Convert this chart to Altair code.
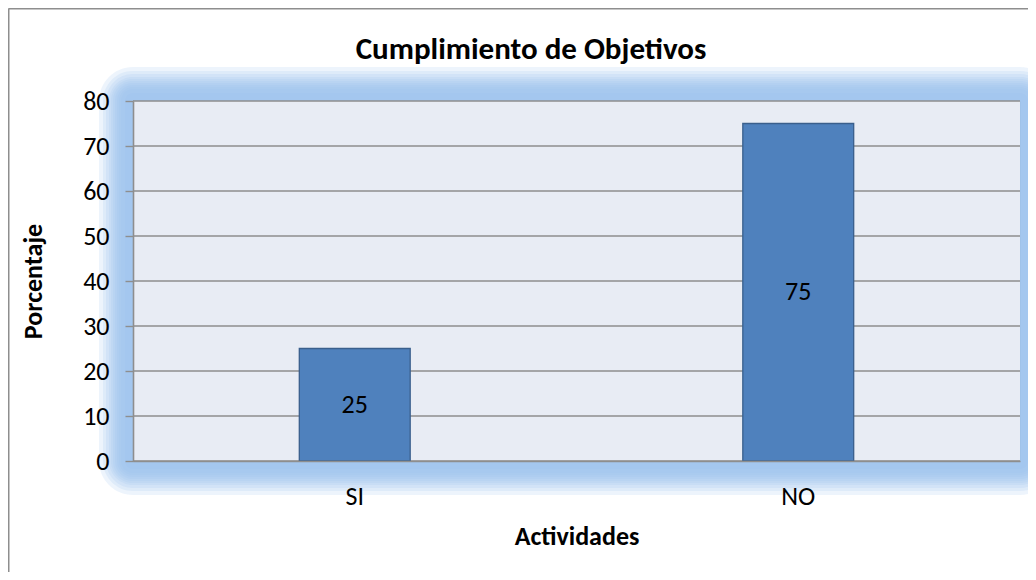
import altair as alt
import pandas as pd

# ---- data ----
CATEGORIES = ["SI", "NO"]
VALUES = [25, 75]
Y_TICKS = [0, 10, 20, 30, 40, 50, 60, 70, 80]
TITLE = "Cumplimiento de Objetivos"
X_TITLE = "Actividades"
Y_TITLE = "Porcentaje"

# ---- style ----
W, H = 887, 360
FONT = "Carlito, Lato, sans-serif"
GRID = "#8E8E8E"
GLOW = "#9CC2EF"
GLOW_STEPS = [8, 12, 14, 16, 18, 20, 22, 24, 27, 30, 34]

df = pd.DataFrame({"cat": CATEGORIES, "val": VALUES})
grid_df = pd.DataFrame({"t": Y_TICKS})

x_scale = alt.Scale(domain=CATEGORIES, paddingInner=0.75, paddingOuter=0.375)
y_scale = alt.Scale(domain=[0, 80], nice=False, zero=True)

y_axis = alt.Axis(
    values=Y_TICKS, grid=False, domainColor=GRID, domainWidth=1.6,
    tickColor=GRID, tickWidth=1.4, tickSize=8, labelPadding=16,
    labelFont=FONT, labelFontSize=26, labelColor="black",
    title=Y_TITLE, titleFont=FONT, titleFontSize=26, titleFontWeight="bold",
    titleColor="black", titleX=-100, titleY=H / 2, titleAngle=270,
    titleAlign="center", titleBaseline="middle", zindex=1,
)
x_axis = alt.Axis(
    ticks=False, tickSize=0, grid=False, domainColor=GRID, domainWidth=1.6,
    labelPadding=43, labelBaseline="alphabetic", labelAngle=0,
    labelFont=FONT, labelFontSize=26, labelColor="black",
    title=X_TITLE, titleFont=FONT, titleFontSize=26, titleFontWeight="bold",
    titleColor="black", titleX=W / 2, titleY=83, titleAlign="center",
    titleBaseline="alphabetic", zindex=1,
)

layers = []

# outer border (left and top edges visible in the frame)
layers.append(
    alt.Chart(alt.Data(values=[{}])).mark_rule(color=GRID, strokeWidth=2).encode(
        x=alt.value(-124.5), y=alt.value(-92.5), y2=alt.value(H + 140)
    )
)
layers.append(
    alt.Chart(alt.Data(values=[{}])).mark_rule(color=GRID, strokeWidth=2).encode(
        x=alt.value(-124.5), x2=alt.value(W + 20), y=alt.value(-92.5)
    )
)

# soft glow around plot area
for e in GLOW_STEPS:
    layers.append(
        alt.Chart(alt.Data(values=[{}])).mark_rect(
            color=GLOW, opacity=0.18, cornerRadius=e
        ).encode(
            x=alt.value(-e), x2=alt.value(W + e), y=alt.value(-e), y2=alt.value(H + e)
        )
    )

# plot background
layers.append(
    alt.Chart(alt.Data(values=[{}])).mark_rect(color="#E8ECF4").encode(
        x=alt.value(0), x2=alt.value(W), y=alt.value(0), y2=alt.value(H)
    )
)

# gridlines
layers.append(
    alt.Chart(grid_df).mark_rule(color=GRID, strokeWidth=1.4).encode(
        y=alt.Y("t:Q", scale=y_scale, axis=y_axis)
    )
)

# bars
bars = alt.Chart(df).mark_bar(color="#4F81BD", stroke="#3A5F8C", strokeWidth=1.3).encode(
    x=alt.X("cat:N", scale=x_scale, axis=x_axis, sort=CATEGORIES),
    y=alt.Y("val:Q", scale=y_scale, axis=y_axis),
)
layers.append(bars)

labels = alt.Chart(df).transform_calculate(mid="datum.val / 2").mark_text(
    font=FONT, fontSize=26, color="black", baseline="middle", align="center"
).encode(
    x=alt.X("cat:N", scale=x_scale, axis=x_axis, sort=CATEGORIES),
    y=alt.Y("mid:Q", scale=y_scale, axis=y_axis),
    text=alt.Text("val:Q"),
)
layers.append(labels)

title = alt.Chart(alt.Data(values=[{"t": TITLE}])).mark_text(
    font=FONT, fontSize=31, fontWeight="bold", color="black",
    baseline="alphabetic", align="center"
).encode(x=alt.value(398), y=alt.value(-42), text="t:N")
layers.append(title)

chart = alt.layer(*layers).properties(
    width=W, height=H,
    autosize=alt.AutoSizeParams(type="none"),
    padding={"left": 125, "top": 93, "right": 8, "bottom": 111},
).configure_view(stroke=None).configure(background="white")

chart.save("out.html", embed_options={"renderer": "svg", "actions": False})
